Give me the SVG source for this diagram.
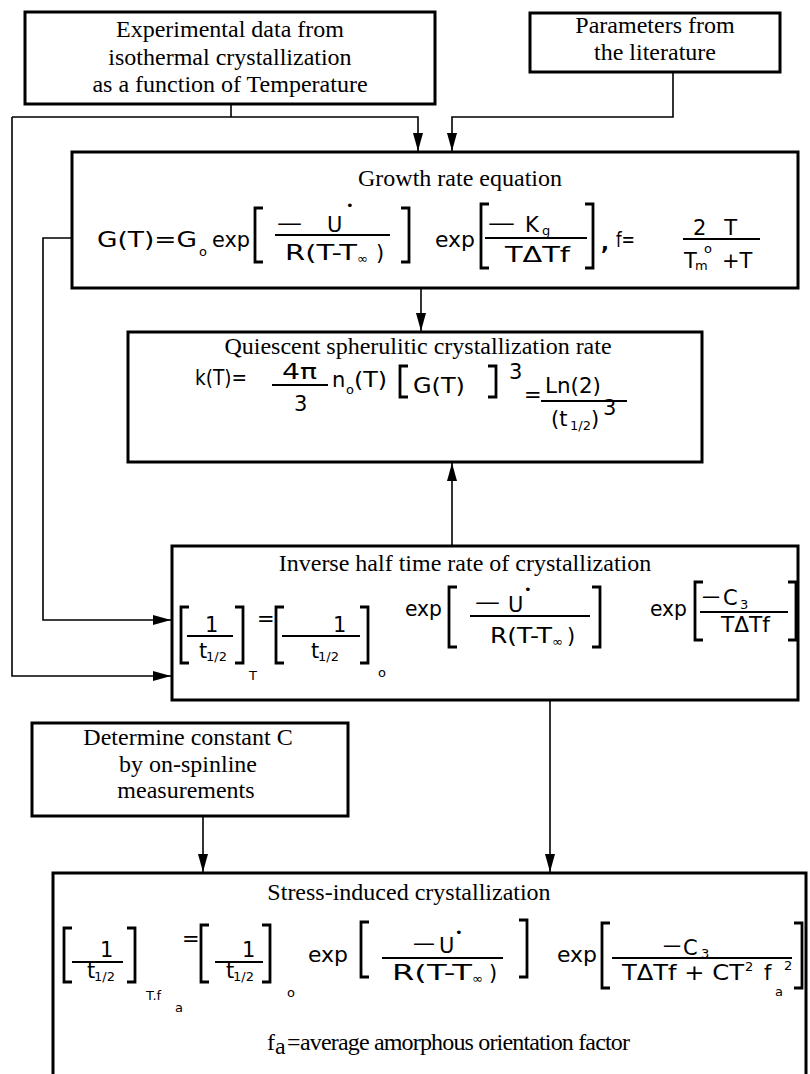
<svg xmlns="http://www.w3.org/2000/svg" width="810" height="1074" viewBox="0 0 810 1074">
<defs>
<marker id="ah" markerWidth="18" markerHeight="10" refX="18" refY="5" orient="auto" markerUnits="userSpaceOnUse" viewBox="0 0 18 10">
<path d="M0,0 L18,5 L0,10 z" fill="#000"/>
</marker>
<style>
.box{fill:#fff;stroke:#000;stroke-width:3}
.ln{fill:none;stroke:#000;stroke-width:1.6}
.ser{font-family:"Liberation Serif",serif;font-size:24px;fill:#000}
.m{font-family:"DejaVu Sans",sans-serif;font-size:21px;fill:#000}
.sb{font-family:"DejaVu Sans",sans-serif;font-size:13px;fill:#000}
.br{fill:none;stroke:#000;stroke-width:2.8}
.fl{stroke:#000;stroke-width:1.8}
</style>
</defs>
<rect width="810" height="1074" fill="#fff"/>

<g id="exp-data">
<rect class="box" x="25" y="12" width="410" height="92"/>
<text class="ser" text-anchor="middle"><tspan x="230" y="37">Experimental data from</tspan><tspan x="230" y="65">isothermal crystallization</tspan><tspan x="230" y="92">as a function of Temperature</tspan></text>
</g>

<g id="literature">
<rect class="box" x="530" y="13" width="250" height="59"/>
<text class="ser" text-anchor="middle" font-size="23"><tspan x="655" y="33">Parameters from</tspan><tspan x="655" y="60">the literature</tspan></text>
</g>

<g id="growth">
<rect class="box" x="72" y="152" width="726" height="136"/>
<text class="ser" x="460" y="186" text-anchor="middle">Growth rate equation</text>
<text class="m" x="97" y="247" textLength="100" lengthAdjust="spacingAndGlyphs">G(T)=G</text>
<text class="sb" x="199" y="256">o</text>
<text class="m" x="212" y="247" textLength="38" lengthAdjust="spacingAndGlyphs">exp</text>
<path class="br" d="M263,208 H255 V262 H263"/>
<text class="m" x="277" y="230" textLength="25" lengthAdjust="spacingAndGlyphs">—</text>
<text class="m" x="327" y="232">U</text>
<text class="sb" x="346" y="210">•</text>
<line class="fl" x1="275" y1="235" x2="390" y2="235"/>
<text class="m" x="285" y="260" textLength="72" lengthAdjust="spacingAndGlyphs">R(T-T</text>
<text class="sb" x="357" y="263">∞</text>
<text class="m" x="376" y="260">)</text>
<path class="br" d="M401,208 H409 V262 H401"/>
<text class="m" x="435" y="247" textLength="40" lengthAdjust="spacingAndGlyphs">exp</text>
<path class="br" d="M489,204 H481 V268 H489"/>
<text class="m" x="488" y="230" textLength="27" lengthAdjust="spacingAndGlyphs">—</text>
<text class="m" x="525" y="232">K</text>
<text class="sb" x="542" y="235">g</text>
<line class="fl" x1="485" y1="238" x2="587" y2="238"/>
<text class="m" x="505" y="262" textLength="65" lengthAdjust="spacingAndGlyphs">TΔTf</text>
<path class="br" d="M585,204 H593 V268 H585"/>
<text class="m" x="601" y="250" font-weight="bold">,</text>
<text class="m" x="616" y="247" textLength="19" lengthAdjust="spacingAndGlyphs">f=</text>
<text class="m" x="693" y="235" textLength="44" lengthAdjust="spacing">2 T</text>
<line class="fl" x1="683" y1="239" x2="760" y2="239"/>
<text class="m" x="684" y="268" font-size="17">T</text>
<text class="sb" x="695" y="270" font-size="11">m</text>
<text class="sb" x="704" y="253">o</text>
<text class="m" x="722" y="268" font-size="17">+T</text>
</g>

<g id="quiescent">
<rect class="box" x="128" y="332" width="574" height="130"/>
<text class="ser" x="418" y="354" text-anchor="middle">Quiescent spherulitic crystallization rate</text>
<text class="m" x="195" y="385" textLength="52" lengthAdjust="spacingAndGlyphs">k(T)=</text>
<text class="m" x="282" y="379" textLength="35" lengthAdjust="spacingAndGlyphs">4π</text>
<line class="fl" x1="272" y1="385" x2="328" y2="385"/>
<text class="m" x="294" y="411">3</text>
<text class="m" x="332" y="387">n</text>
<text class="sb" x="346" y="394">o</text>
<text class="m" x="354" y="387" textLength="33" lengthAdjust="spacingAndGlyphs">(T)</text>
<path class="br" d="M408,366 H400 V397 H408"/>
<text class="m" x="413" y="393" textLength="52" lengthAdjust="spacingAndGlyphs">G(T)</text>
<path class="br" d="M488,366 H496 V397 H488"/>
<text class="m" x="509" y="379" font-size="16">3</text>
<text class="m" x="524" y="402" font-size="17">=</text>
<text class="m" x="545" y="393" textLength="56" lengthAdjust="spacingAndGlyphs">Ln(2)</text>
<line class="fl" x1="541" y1="401" x2="627" y2="401"/>
<text class="m" x="551" y="426">(t</text>
<text class="sb" x="570" y="430" font-size="10">1/2</text>
<text class="m" x="591" y="426">)</text>
<text class="m" x="603" y="415" font-size="16">3</text>
</g>

<g id="inverse">
<rect class="box" x="172" y="546" width="626" height="154"/>
<text class="ser" x="465" y="571" text-anchor="middle">Inverse half time rate of crystallization</text>
<path class="br" d="M189,607 H181 V663 H189"/>
<text class="m" x="205" y="632">1</text>
<line class="fl" x1="187" y1="636" x2="233" y2="636"/>
<text class="m" x="199" y="658">t</text>
<text class="sb" x="206" y="661" font-size="10">1/2</text>
<path class="br" d="M235,607 H243 V663 H235"/>
<text class="sb" x="249" y="680">T</text>
<text class="m" x="257" y="626" font-size="16">=</text>
<path class="br" d="M284,607 H276 V663 H284"/>
<text class="m" x="333" y="632">1</text>
<line class="fl" x1="282" y1="636" x2="360" y2="636"/>
<text class="m" x="311" y="658">t</text>
<text class="sb" x="318" y="661" font-size="10">1/2</text>
<path class="br" d="M360,607 H368 V663 H360"/>
<text class="sb" x="378" y="677">o</text>
<text class="m" x="405" y="616" textLength="37" lengthAdjust="spacingAndGlyphs">exp</text>
<path class="br" d="M457,587 H449 V647 H457"/>
<text class="m" x="475" y="609" textLength="25" lengthAdjust="spacingAndGlyphs">—</text>
<text class="m" x="508" y="612">U</text>
<text class="sb" x="524" y="594">•</text>
<line class="fl" x1="470" y1="616" x2="590" y2="616"/>
<text class="m" x="490" y="643" textLength="62" lengthAdjust="spacingAndGlyphs">R(T-T</text>
<text class="sb" x="552" y="646">∞</text>
<text class="m" x="567" y="643">)</text>
<path class="br" d="M592,587 H600 V647 H592"/>
<text class="m" x="650" y="616" textLength="37" lengthAdjust="spacingAndGlyphs">exp</text>
<path class="br" d="M703,582 H695 V640 H703"/>
<text class="m" x="702" y="603" textLength="18" lengthAdjust="spacingAndGlyphs">—</text>
<text class="m" x="723" y="605">C</text>
<text class="sb" x="740" y="609">3</text>
<line class="fl" x1="700" y1="612" x2="788" y2="612"/>
<text class="m" x="721" y="632" textLength="49" lengthAdjust="spacingAndGlyphs">TΔTf</text>
<path class="br" d="M788,582 H796 V640 H788"/>
</g>

<g id="determine">
<rect class="box" x="32" y="723" width="316" height="93"/>
<text class="ser" text-anchor="middle"><tspan x="188" y="745">Determine constant C</tspan><tspan x="188" y="772">by on-spinline</tspan><tspan x="186" y="798">measurements</tspan></text>
</g>

<g id="stress">
<rect class="box" x="53" y="873" width="753" height="230"/>
<text class="ser" x="409" y="900" text-anchor="middle">Stress-induced crystallization</text>
<path class="br" d="M72,928 H64 V982 H72"/>
<text class="m" x="100" y="957">1</text>
<line class="fl" x1="72" y1="962" x2="123" y2="962"/>
<text class="m" x="87" y="978">t</text>
<text class="sb" x="94" y="981" font-size="10">1/2</text>
<path class="br" d="M127,928 H135 V982 H127"/>
<text class="sb" x="146" y="1000" font-size="12">T.f</text>
<text class="sb" x="175" y="1012" font-size="11">a</text>
<text class="m" x="182" y="946" font-size="16">=</text>
<path class="br" d="M209,925 H201 V982 H209"/>
<text class="m" x="242" y="957">1</text>
<line class="fl" x1="215" y1="962" x2="263" y2="962"/>
<text class="m" x="226" y="978">t</text>
<text class="sb" x="233" y="981" font-size="10">1/2</text>
<path class="br" d="M262,925 H270 V982 H262"/>
<text class="sb" x="287" y="997">o</text>
<text class="m" x="308" y="962" textLength="40" lengthAdjust="spacingAndGlyphs">exp</text>
<path class="br" d="M369,922 H361 V977 H369"/>
<text class="m" x="413" y="950" textLength="22" lengthAdjust="spacingAndGlyphs">—</text>
<text class="m" x="439" y="953">U</text>
<text class="sb" x="455" y="937">•</text>
<line class="fl" x1="382" y1="958" x2="503" y2="958"/>
<text class="m" x="392" y="980" textLength="80" lengthAdjust="spacingAndGlyphs">R(T-T</text>
<text class="sb" x="472" y="983">∞</text>
<text class="m" x="489" y="980">)</text>
<path class="br" d="M519,920 H527 V977 H519"/>
<text class="m" x="557" y="962" textLength="40" lengthAdjust="spacingAndGlyphs">exp</text>
<path class="br" d="M610,923 H602 V988 H610"/>
<text class="m" x="663" y="952" textLength="18" lengthAdjust="spacingAndGlyphs">—</text>
<text class="m" x="683" y="955">C</text>
<text class="sb" x="701" y="958">3</text>
<line class="fl" x1="612" y1="958" x2="792" y2="958"/>
<text class="m" x="622" y="980" textLength="122" lengthAdjust="spacingAndGlyphs">TΔTf + CT</text>
<text class="sb" x="745" y="971">2</text>
<text class="m" x="764" y="980">f</text>
<text class="sb" x="775" y="996">a</text>
<text class="sb" x="784" y="970">2</text>
<path class="br" d="M794,923 H802 V988 H794"/>
<text class="ser" x="267" y="1050" font-size="22">f</text>
<text class="ser" x="275" y="1054" font-size="14">a</text>
<text class="ser" x="287" y="1050" font-size="18">=</text>
<text class="ser" x="300" y="1050" font-size="19" textLength="330" lengthAdjust="spacing">average amorphous orientation factor</text>
</g>

<g id="connectors" class="ln">
<path d="M231,104 V117"/>
<path d="M12,117 H418 V151" marker-end="url(#ah)"/>
<path d="M673,72 V117 H452 V151" marker-end="url(#ah)"/>
<path d="M12,117 V676 H171" marker-end="url(#ah)"/>
<path d="M72,238 H43 V620 H171" marker-end="url(#ah)"/>
<path d="M421,288 V331" marker-end="url(#ah)"/>
<path d="M452,546 V463" marker-end="url(#ah)"/>
<path d="M550,700 V872" marker-end="url(#ah)"/>
<path d="M203,816 V872" marker-end="url(#ah)"/>
</g>
</svg>
